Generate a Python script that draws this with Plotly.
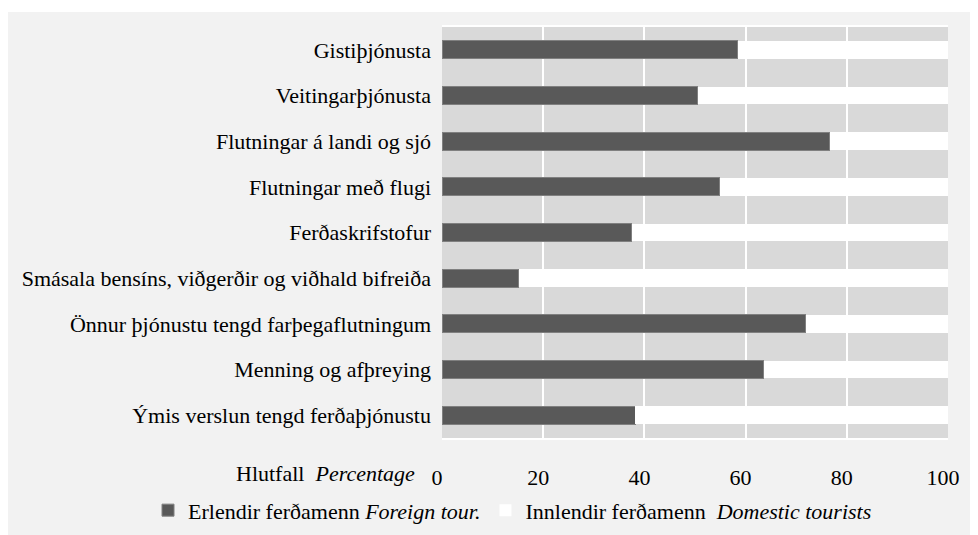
import plotly.graph_objects as go

categories = [
    "Gistiþjónusta",
    "Veitingarþjónusta",
    "Flutningar á landi og sjó",
    "Flutningar með flugi",
    "Ferðaskrifstofur",
    "Smásala bensíns, viðgerðir og viðhald bifreiða",
    "Önnur þjónustu tengd farþegaflutningum",
    "Menning og afþreying",
    "Ýmis verslun tengd ferðaþjónustu",
]
foreign = [58.4, 50.5, 76.6, 54.9, 37.5, 15.2, 71.9, 63.6, 38.2]
domestic = [100 - v for v in foreign]

font_family = "Liberation Serif"

fig = go.Figure()
fig.add_trace(go.Bar(y=categories, x=foreign, orientation="h",
                     name="Erlendir ferðamenn <i>Foreign tour.</i>",
                     marker=dict(color="#595959", line=dict(color="#808080", width=1))))
fig.add_trace(go.Bar(y=categories, x=domestic, orientation="h",
                     name="Innlendir ferðamenn  <i>Domestic tourists</i>",
                     marker=dict(color="#ffffff", line=dict(color="#ffffff", width=0))))

fig.update_layout(
    width=978, height=535,
    barmode="stack", bargap=0.61,
    paper_bgcolor="#f2f2f2", plot_bgcolor="#d9d9d9",
    margin=dict(l=434, r=38, t=19, b=102),
    font=dict(family=font_family, size=22, color="#000000"),
    legend=dict(orientation="h", x=-0.581, xanchor="left", y=-0.176, yanchor="middle",
                bgcolor="rgba(0,0,0,0)", font=dict(size=22), traceorder="normal"),
    shapes=[dict(type="rect", xref="paper", yref="paper", layer="above",
                 x0=-0.9, x1=1.1, y0=1.0362, y1=1.06,
                 fillcolor="#ffffff", line=dict(width=0))],
    annotations=[dict(text="Hlutfall  <i>Percentage</i>", xref="paper", yref="paper",
                      x=-0.05, y=-0.087, xanchor="right", yanchor="middle",
                      showarrow=False, font=dict(size=22))],
)
fig.update_xaxes(range=[0, 100], dtick=20, showgrid=True, gridcolor="#ffffff", gridwidth=2,
                 zeroline=False, showline=True, linecolor="#ffffff", linewidth=2, mirror=True,
                 ticks="", ticklabelstandoff=19, ticklabelshift=-5, fixedrange=True)
fig.update_yaxes(autorange="reversed", showgrid=False, zeroline=False,
                 ticks="", ticklabelstandoff=10, fixedrange=True)

fig.write_html("out.html")
